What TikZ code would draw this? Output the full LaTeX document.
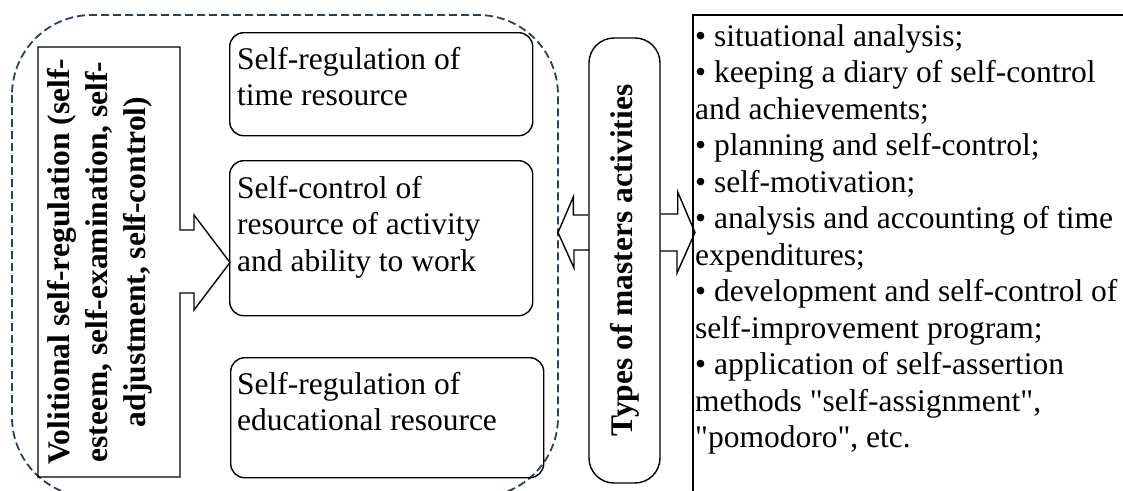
\documentclass[tikz,border=0pt]{standalone}
\usepackage{fontspec}
\newfontfamily\mainf{Liberation Serif}
\definecolor{dashcol}{RGB}{40,64,100}
\begin{document}
\begin{tikzpicture}[x=1pt,y=-1pt,line join=miter,
  rbox/.style={draw, rounded corners=14pt, line width=1.4pt, inner sep=0pt, anchor=north west},
  txt/.style={font=\mainf\fontsize{31.5}{36.5}\selectfont, align=left, inner sep=0pt, anchor=north west},
  btxt/.style={font=\mainf\fontsize{31.5}{38}\selectfont\bfseries, align=center, inner sep=0pt},
  blk/.style={draw, line width=1.4pt},
  thick2/.style={line width=2.2pt}]
\useasboundingbox (0,0) rectangle (1123,490);
\begin{scope}
  \clip (0,0) rectangle (1123,490);
  \draw[dashcol, line width=1.8pt, dash pattern=on 8pt off 4pt, rounded corners=80pt] (12,15) rectangle (558,497);
  \draw[thick2] (1140,15) -- (693,15) -- (693,510);
\end{scope}
% left callout
\draw[blk] (38,47) -- (180,47) -- (180,230) -- (194,230) -- (194,215) -- (230,262.5)
  -- (194,310) -- (194,293) -- (180,293) -- (180,477) -- (38,477) -- cycle;
\node[btxt, rotate=90] (vol) at (100,262) {Volitional self-regulation (self-\\esteem, self-examination, self-\\adjustment, self-control)};
% middle boxes
\node[rbox, minimum width=303pt, minimum height=103pt] (b1) at (229,32) {};
\node[rbox, minimum width=303pt, minimum height=155pt] (b2) at (229,160) {};
\node[rbox, minimum width=313pt, minimum height=120pt] (b3) at (230,357) {};
\node[txt] (t1) at (237,47) {Self-regulation of\\time resource};
\node[txt] (t2) at (237,176) {Self-control of\\resource of activity\\and ability to work};
\node[txt] (t3) at (237,372) {Self-regulation of\\educational resource};
% types box
\node[draw, line width=1.4pt, rounded corners=25pt, rotate=90, minimum width=445pt, minimum height=71pt,
  inner sep=0pt, font=\mainf\fontsize{31.5}{38}\selectfont\bfseries] (types) at (624.5,260.5) {Types of masters activities};
\coordinate (tipL) at (558,232.5);
\coordinate (tipR) at (695,232.5);
\draw[blk] (types.north |- tipL) ++(0,-17.5) -- ++(-15,0) -- ++(0,-18) -- (tipL) -- ++(16,35.5) -- ++(0,-18) -- ++(15,0);
\draw[blk] (types.south |- tipR) ++(0,-18.5) -- ++(17,0) -- ++(0,-22) -- (tipR) -- ++(-18,40.5) -- ++(0,-22) -- ++(-17,0);
% list
\node[txt] (list) at (695,24) {• situational analysis;\\
• keeping a diary of self-control\\
and achievements;\\
• planning and self-control;\\
• self-motivation;\\
• analysis and accounting of time\\
expenditures;\\
• development and self-control of\\
self-improvement program;\\
• application of self-assertion\\
methods "self-assignment",\\
"pomodoro", etc.};
\end{tikzpicture}
\end{document}
